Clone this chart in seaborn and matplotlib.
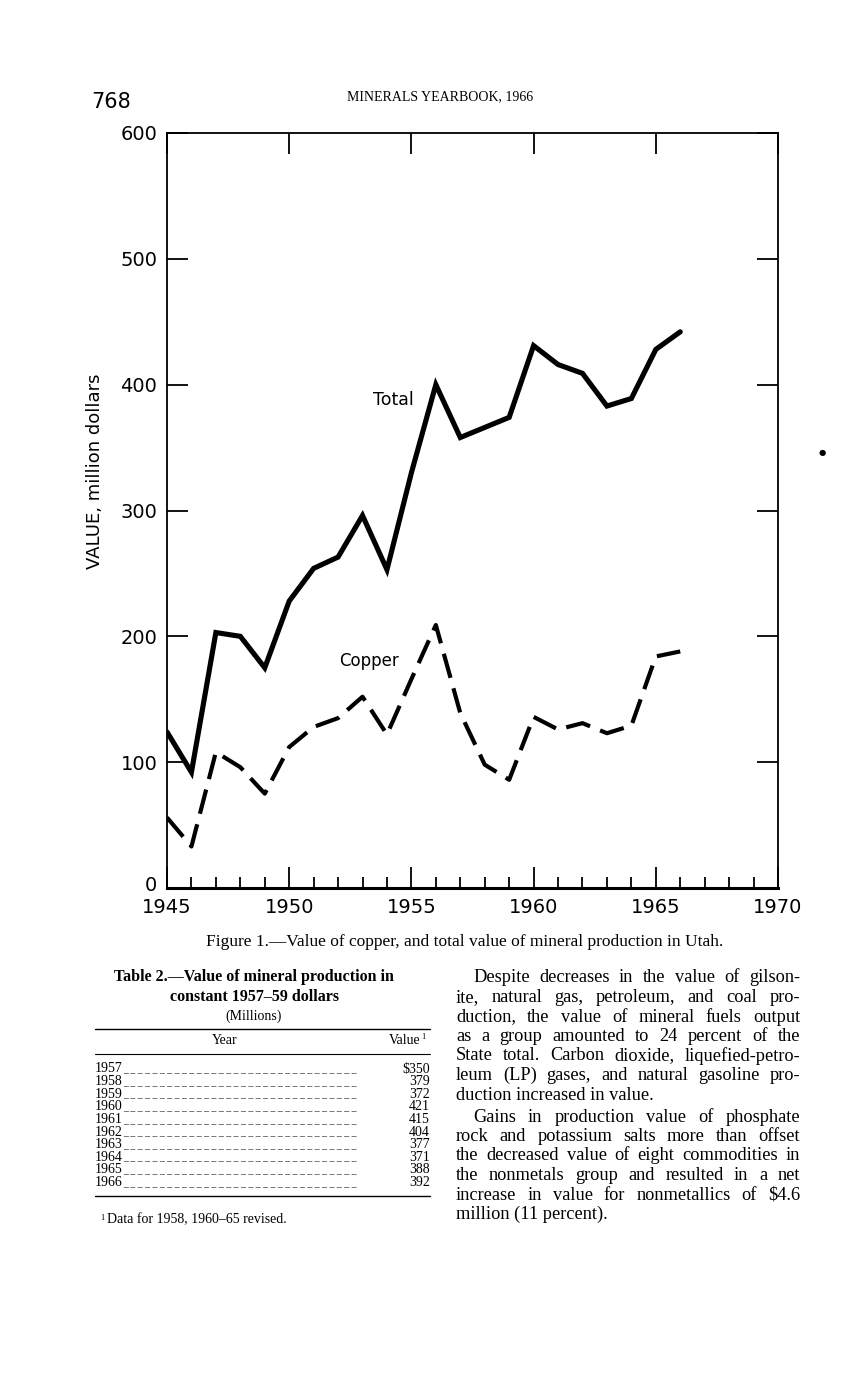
import matplotlib
matplotlib.use("Agg")
import matplotlib.pyplot as plt
import matplotlib.transforms as mtrans
import seaborn as sns
import pandas as pd

# %% Dados do grafico
years = list(range(1945, 1967))
total = [124, 92, 203, 200, 175, 228, 254, 263, 296, 253, 330, 400,
         358, 366, 374, 431, 416, 409, 383, 389, 428, 442]
copper = [56, 33, 108, 96, 75, 112, 128, 135, 152, 122, 166, 209,
          139, 98, 86, 136, 126, 131, 123, 129, 184, 188]

y_ticks = [0, 100, 200, 300, 400, 500, 600]
x_ticks = [1945, 1950, 1955, 1960, 1965, 1970]

# Tabela 2
table_years = [1957, 1958, 1959, 1960, 1961, 1962, 1963, 1964, 1965, 1966]
table_values = ["$350", "379", "372", "421", "415", "404", "377", "371", "388", "392"]

para1 = ["Despite decreases in the value of gilson-",
         "ite, natural gas, petroleum, and coal pro-",
         "duction, the value of mineral fuels output",
         "as a group amounted to 24 percent of the",
         "State total. Carbon dioxide, liquefied-petro-",
         "leum (LP) gases, and natural gasoline pro-",
         "duction increased in value."]
para2 = ["Gains in production value of phosphate",
         "rock and potassium salts more than offset",
         "the decreased value of eight commodities in",
         "the nonmetals group and resulted in a net",
         "increase in value for nonmetallics of $4.6",
         "million (11 percent)."]

df = pd.DataFrame({"Ano": years, "Total": total, "Copper": copper})

# %% Figura
sns.set_style("ticks")
plt.rcParams["font.family"] = ["DejaVu Sans"]
plt.rcParams.update({"text.color": "black", "axes.labelcolor": "black",
                     "xtick.color": "black", "ytick.color": "black",
                     "axes.edgecolor": "black"})

W, H = 844, 1380
fig = plt.figure(figsize=(W / 100, H / 100), dpi=100)
ax = fig.add_axes([167 / W, 1 - 888 / H, (778 - 167) / W, (888 - 133) / H])

sns.lineplot(data=df, x="Ano", y="Total", ax=ax, color="black", linewidth=3.7,
             solid_joinstyle="miter")
sns.lineplot(data=df, x="Ano", y="Copper", ax=ax, color="black", linewidth=3.0)
ax.lines[-1].set_dashes((6, 2.6))

ax.set_xlim(1945, 1970)
ax.set_ylim(0, 600)
ax.set_xticks(x_ticks)
ax.set_xticks(range(1945, 1971), minor=True)
ax.set_yticks(y_ticks)
ax.set_xticklabels([str(x) for x in x_ticks])
ax.set_yticklabels([str(y) for y in y_ticks])

ax.tick_params(axis="x", which="major", direction="in", length=15, width=1.3,
               top=True, labeltop=False, labelsize=14, pad=7)
ax.tick_params(axis="x", which="minor", direction="in", length=8, width=1.3,
               top=False)
ax.tick_params(axis="y", which="major", direction="in", length=15, width=1.3,
               right=True, labelright=False, labelsize=14, pad=7)
for s in ax.spines.values():
    s.set_visible(True)
    s.set_linewidth(1.3)
ax.spines["bottom"].set_linewidth(2.2)

# o "0" fica um pouco acima do canto
lab0 = ax.get_yticklabels()[0]
lab0.set_transform(lab0.get_transform() +
                   mtrans.ScaledTranslation(0, 3 / 72, fig.dpi_scale_trans))

ax.set_xlabel("")
ax.set_ylabel("VALUE, million dollars", fontsize=13)
ax.yaxis.set_label_coords(-0.103, 0.552)

ax.text(1954.25, 388, "Total", fontsize=12.5, ha="center", va="center")
ax.text(1953.25, 180, "Copper", fontsize=12, ha="center", va="center")

# %% Cabecalho e legenda
serif = "Liberation Serif"
fig.text(91 / W, 1 - 102 / H, "768", fontsize=15, ha="left", va="center")
fig.text(440 / W, 1 - 97 / H, "MINERALS YEARBOOK, 1966", fontsize=10,
         ha="center", va="center", family=serif)
fig.text(465 / W, 1 - 942 / H,
         "Figure 1.\u2014Value of copper, and total value of mineral production in Utah.",
         fontsize=12.5, ha="center", va="center", family=serif)
fig.text(822 / W, 1 - 452 / H, "\u25cf", fontsize=6, ha="center", va="center")

# %% Tabela 2
fig.text(254 / W, 1 - 977 / H, "Table 2.\u2014Value of mineral production in",
         fontsize=11.5, fontweight="bold", ha="center", va="center", family=serif)
fig.text(254 / W, 1 - 997 / H, "constant 1957\u201359 dollars",
         fontsize=11.5, fontweight="bold", ha="center", va="center", family=serif)
fig.text(254 / W, 1 - 1016 / H, "(Millions)", fontsize=10, ha="center",
         va="center", family=serif)
for yy, lw in [(1029, 1.0), (1054, 0.8), (1196, 1.0)]:
    fig.add_artist(plt.Line2D([95 / W, 430 / W], [1 - yy / H, 1 - yy / H],
                              color="black", linewidth=lw))
fig.text(225 / W, 1 - 1041 / H, "Year", fontsize=10, ha="center", va="center",
         family=serif)
fig.text(420 / W, 1 - 1041 / H, "Value", fontsize=10, ha="right", va="center",
         family=serif)
fig.text(421 / W, 1 - 1037 / H, "1", fontsize=6, ha="left", va="center",
         family=serif)
for i, (yr, val) in enumerate(zip(table_years, table_values)):
    ypix = 1069 + i * 12.6
    fig.text(95 / W, 1 - ypix / H, str(yr), fontsize=10, ha="left",
             va="center", family=serif)
    fig.text(123 / W, 1 - ypix / H, "_ " * 32, fontsize=7, ha="left",
             va="center", family=serif)
    fig.text(430 / W, 1 - ypix / H, val, fontsize=10, ha="right",
             va="center", family=serif)
fig.text(100 / W, 1 - 1218 / H, "1", fontsize=6, ha="left", va="center",
         family=serif)
fig.text(107 / W, 1 - 1220 / H, "Data for 1958, 1960\u201365 revised.",
         fontsize=10, ha="left", va="center", family=serif)

# %% Texto justificado a direita
renderer = fig.canvas.get_renderer()


def justified(lines, y0, indent=17, left=456, right=800, step=19.5, size=13.2):
    for k, line in enumerate(lines):
        ypix = y0 + k * step
        x0 = left + (indent if k == 0 else 0)
        words = line.split()
        if k == len(lines) - 1:
            fig.text(x0 / W, 1 - ypix / H, line, fontsize=size, ha="left",
                     va="center", family=serif)
            continue
        objs = [fig.text(0, 1 - ypix / H, w, fontsize=size, ha="left",
                         va="center", family=serif) for w in words]
        widths = [o.get_window_extent(renderer).width for o in objs]
        gap = (right - x0 - sum(widths)) / max(len(words) - 1, 1)
        x = x0
        for o, wd in zip(objs, widths):
            o.set_x(x / W)
            x += wd + gap


justified(para1, 978)
justified(para2, 1117)

fig.savefig("out.png", dpi=100)
